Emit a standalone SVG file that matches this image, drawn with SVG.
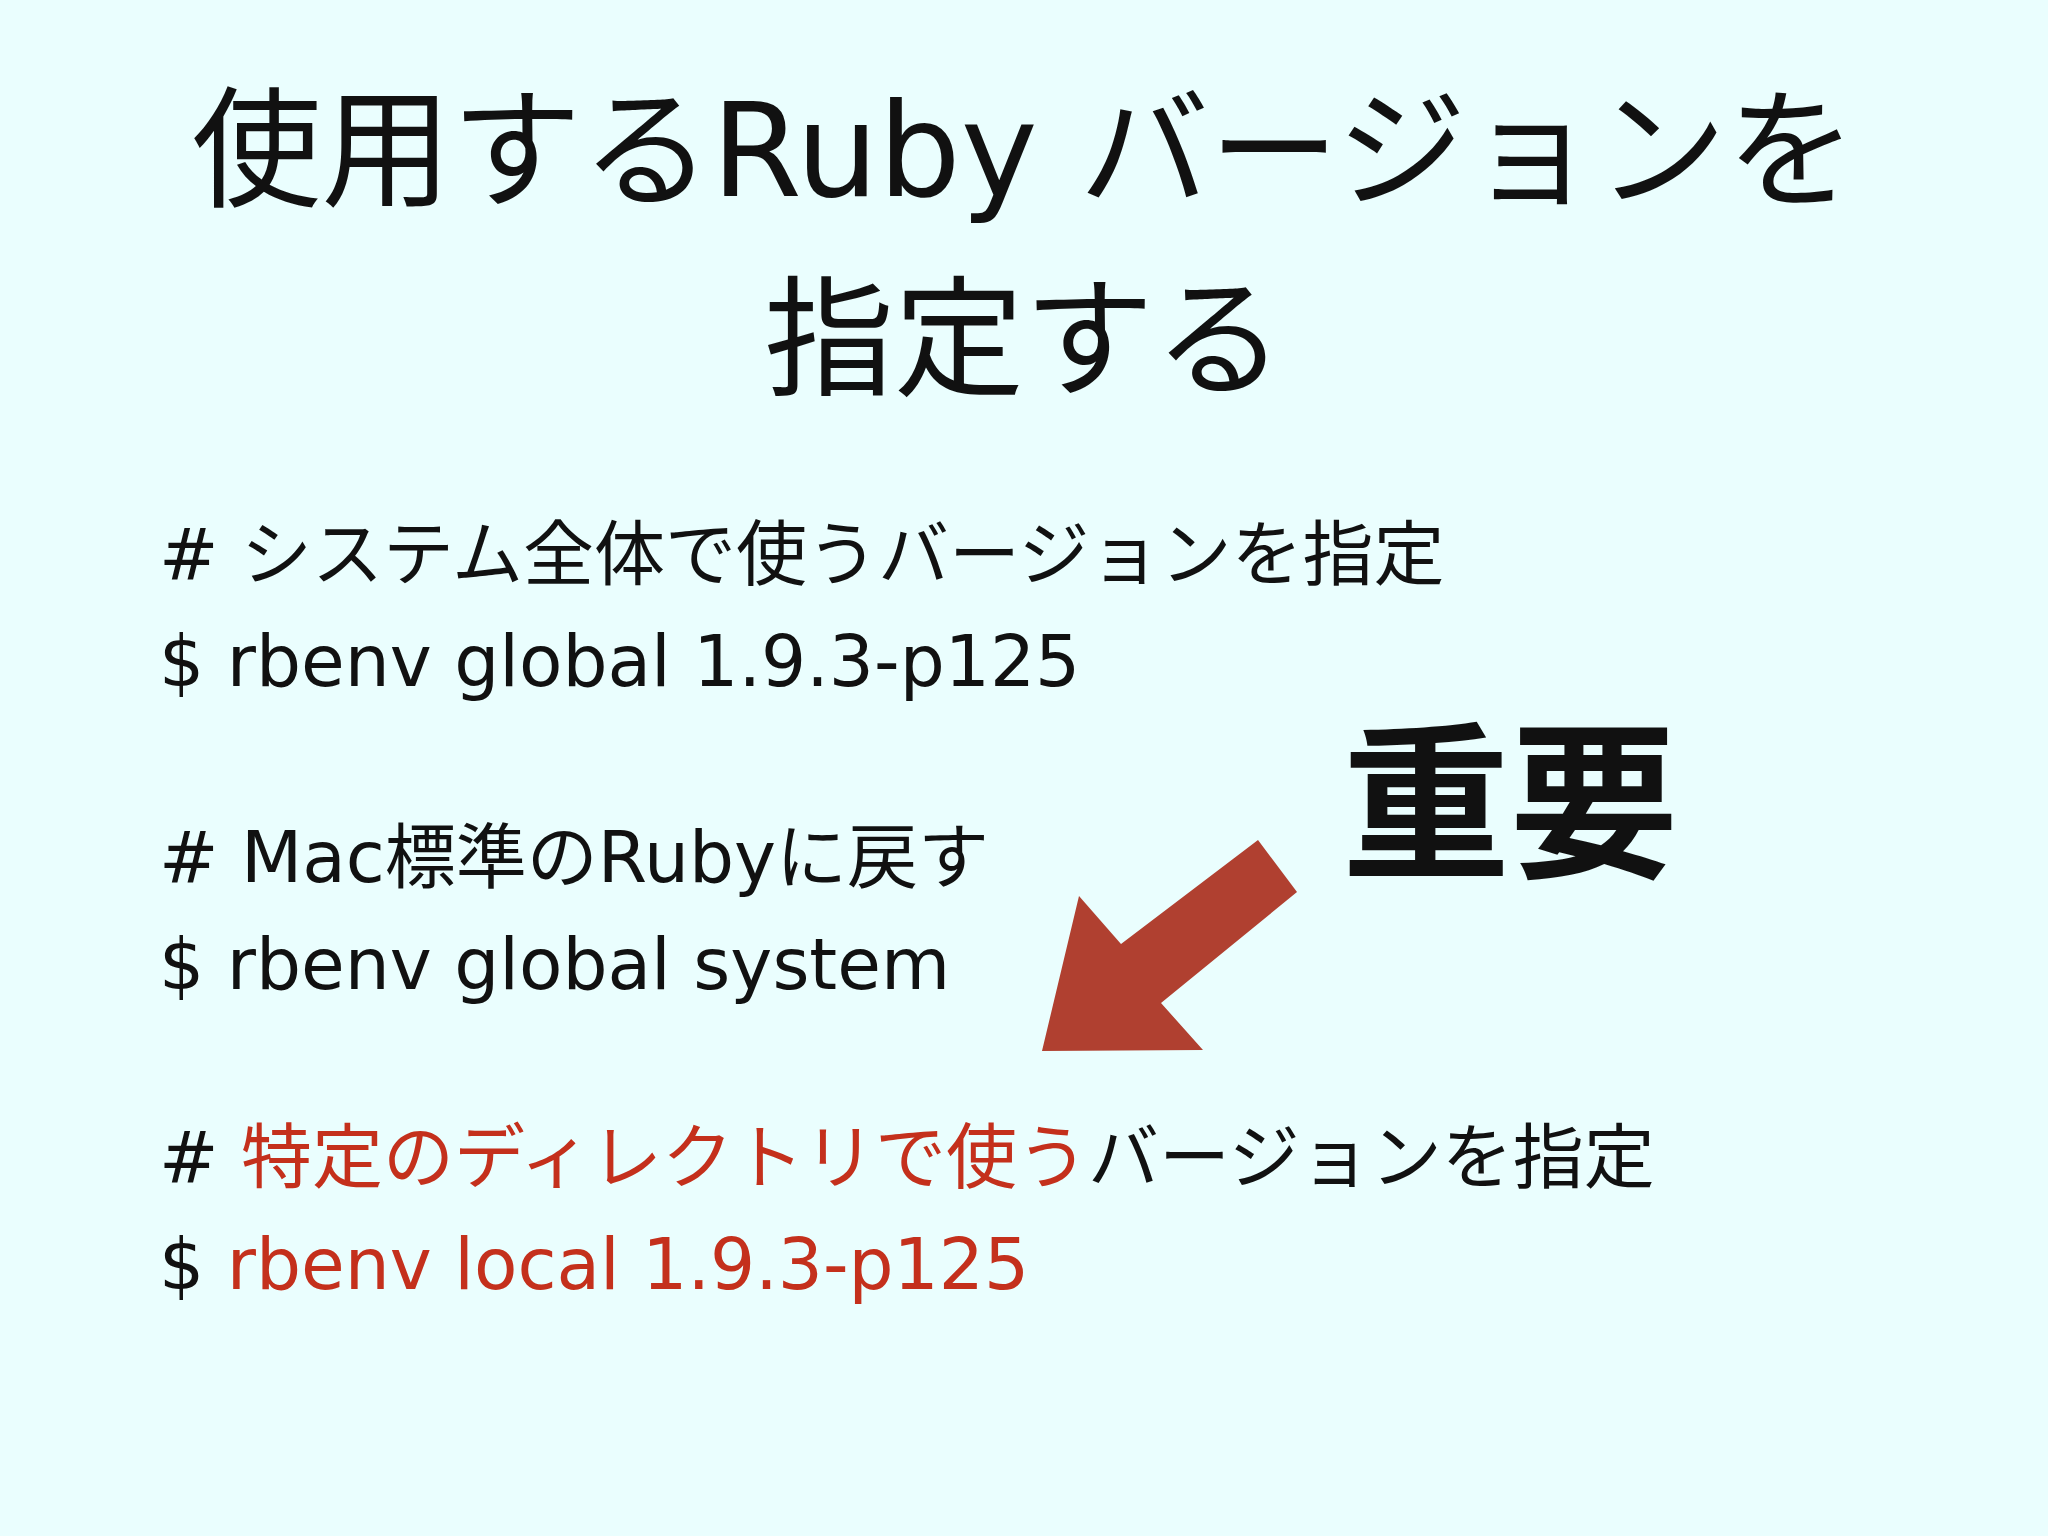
<svg xmlns="http://www.w3.org/2000/svg" width="2048" height="1536" viewBox="0 0 2048 1536">
<style>
text{font-family:"DejaVu Sans","Noto Sans CJK JP",sans-serif;fill:#111}
.t{font-size:130px;text-anchor:middle}
.b{font-size:71px}
.r{fill:#c4301c}
</style>
<rect width="2048" height="1536" fill="#eafefe"/>
<g id="title">
<text class="t" x="1024" y="196">使用するRuby バージョンを</text>
<text class="t" x="1024" y="385">指定する</text>
</g>
<g id="body">
<text class="b" x="159" y="579"># システム全体で使うバージョンを指定</text>
<text class="b" x="159" y="686">$ rbenv global 1.9.3-p125</text>
<text class="b" x="159" y="882"># Mac標準のRubyに戻す</text>
<text class="b" x="159" y="989">$ rbenv global system</text>
<text class="b" x="159" y="1182"># <tspan class="r">特定のディレクトリで使う</tspan>バージョンを指定</text>
<text class="b" x="159" y="1289">$ <tspan class="r">rbenv local 1.9.3-p125</tspan></text>
</g>
<g id="important">
<text x="1342" y="865" style="font-size:168px;font-weight:bold;font-family:'Noto Sans CJK JP',sans-serif">重要</text>
</g>
<g id="arrow">
<polygon points="1042,1051 1203,1050 1161,1003 1297,892 1258,840 1121,944 1079,896" fill="#b04030"/>
</g>
</svg>
